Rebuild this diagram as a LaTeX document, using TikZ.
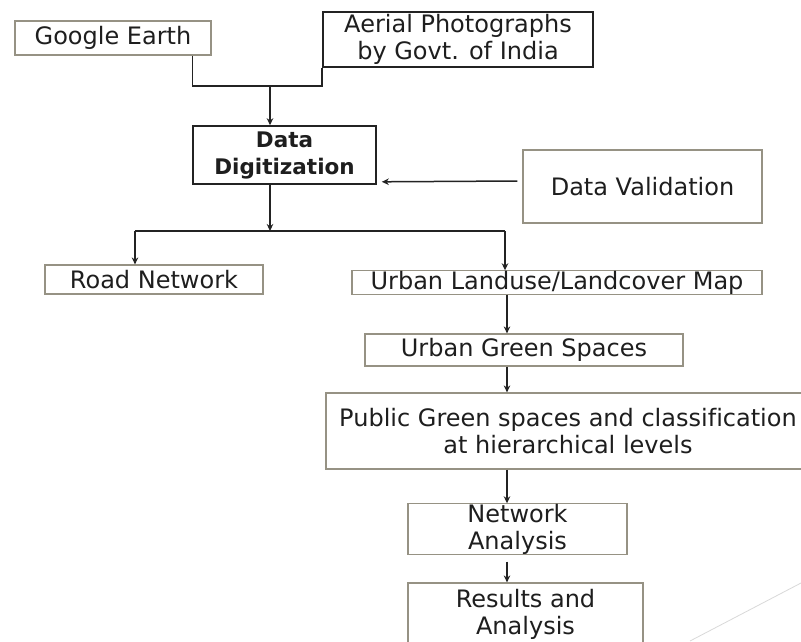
\documentclass[tikz,border=0pt]{standalone}
\usepackage{fontspec}
\setmainfont{DejaVu Sans}[Ligatures=NoCommon]
\usetikzlibrary{arrows.meta}
\definecolor{boxgray}{RGB}{150,146,132}
\definecolor{linedark}{RGB}{35,35,35}
\definecolor{textdark}{RGB}{30,30,30}

\tikzset{
	stepbox/.style={draw=boxgray, line width=1.2pt, inner sep=0pt, align=center, text=textdark, font=\fontsize{24}{27}\selectfont},
	darkbox/.style={stepbox, draw=linedark, line width=1.6pt},
	conn/.style={draw=linedark, line width=1.5pt},
	arr/.style={conn, -{Stealth[length=7pt,width=6.5pt]}}
}

\begin{document}
\begin{tikzpicture}[x=1pt, y=-1pt]
			%%%%% START %%%%%
			
			\fill[white] (0, 0) rectangle (801, 641);
			\useasboundingbox (0, 0) rectangle (801, 641);
			
			\node[stepbox, minimum width=196, minimum height=34] (ge) at (113, 38) {Google Earth};
			\node[darkbox, minimum width=270, minimum height=55] (aerial) at (458, 39.5) {Aerial Photographs\\by Govt. of India};
			
			\node[darkbox, minimum width=183, minimum height=58, font=\fontsize{21.5}{27}\selectfont\bfseries] (dig) at (284.5, 155) {Data\\Digitization};
			\node[stepbox, minimum width=239, minimum height=73] (val) at (642.5, 186.5) {Data Validation};
			
			\node[stepbox, minimum width=218, minimum height=29] (road) at (154, 279.5) {Road Network};
			\node[stepbox, minimum width=410, minimum height=23] (lulc) at (557, 282.5) {Urban Landuse/Landcover Map};
			\node[stepbox, minimum width=318, minimum height=32] (ugs) at (524, 350) {Urban Green Spaces};
			\node[stepbox, minimum width=484, minimum height=76] (pgs) at (568, 431) {Public Green spaces and classification\\at hierarchical levels};
			\node[stepbox, minimum width=219, minimum height=48] (na) at (517.5, 529) {Network\\Analysis};
			\node[stepbox, minimum width=235, minimum height=62] (res) at (525.5, 614) {Results and\\Analysis};
			
			\coordinate (j1) at (270, 86);
			\coordinate (j2) at (270, 231);
			\coordinate (jl) at (135, 231);
			\coordinate (jr) at (505, 231);
			\coordinate (ax) at (507, 0);
			\coordinate (nab) at ([yshift=-7pt]na.south);
			
			\draw[conn] ([xshift=-19pt]ge.south east) |- (j1) -| (aerial.south west);
			\draw[arr] (j1) -- (j1 |- dig.north);
			\draw[arr] ([xshift=-5pt, yshift=5.5pt]val.west) -- ([xshift=5pt, yshift=3pt]dig.south east);
			
			\draw[arr] (j1 |- dig.south) -- (j2);
			\draw[conn] (jl) -- (jr);
			\draw[arr] (jl) -- (jl |- road.north);
			\draw[arr] (jr) -- (jr |- lulc.north);
			
			\draw[arr] (lulc.south -| ax) -- (ugs.north -| ax);
			\draw[arr] (ugs.south -| ax) -- (pgs.north -| ax);
			\draw[arr] (pgs.south -| ax) -- (na.north -| ax);
			\draw[arr] (nab -| ax) -- (res.north -| ax);
			
			\draw[black!15, line width=0.8pt] (690, 641) -- (801, 583);
			
			%%%%% END %%%%%
		\end{tikzpicture}
\end{document}
